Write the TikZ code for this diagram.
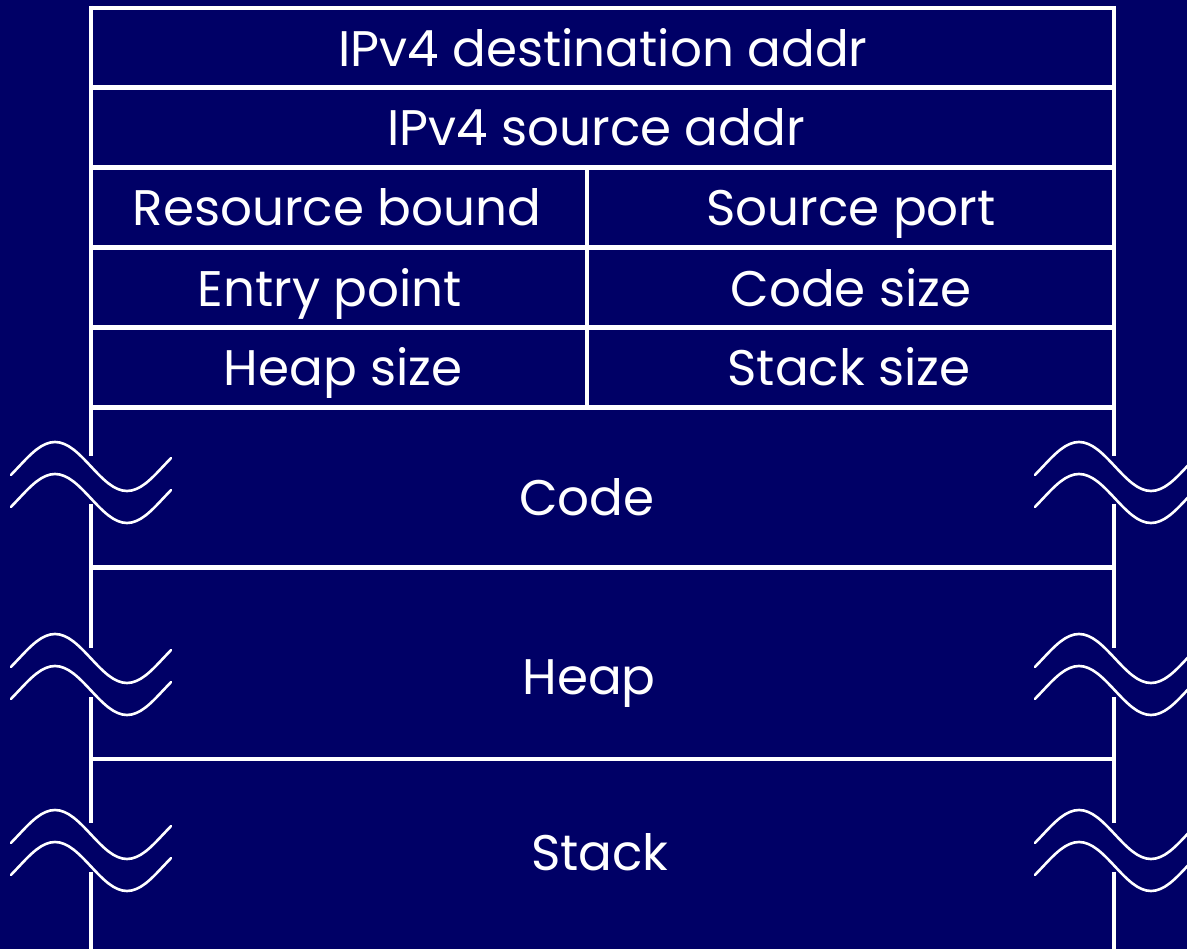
\documentclass[tikz,border=0pt]{standalone}
\usepackage{fontspec}
\setmainfont{Poppins}
\definecolor{slidebg}{RGB}{0,0,102}
\begin{document}
\begin{tikzpicture}[x=1pt,y=-1pt,
  rule/.style={draw=white,line width=4.5pt},
  wave/.style={draw=white,line width=2.6pt,line cap=round,line join=round},
  label/.style={text=white,anchor=base,inner sep=0pt,font=\fontsize{50}{60}\selectfont}]
  % background and page size
  \fill[slidebg] (0,0) rectangle (1187,949);
  \useasboundingbox (0,0) rectangle (1187,949);
  \begin{scope}
  \clip (0,0) rectangle (1187,949);
  % horizontal rules
  \foreach \yy in {8,87.5,167.5,247.5,327.5,407.5,567.5,759}
    \draw[rule] (91,\yy) -- (1114,\yy);
  % column divider in the header rows
  \draw[rule] (587,167.5) -- (587,407.5);
  % side walls, broken where the memory regions are elided
  \foreach \wx in {91,1114}{
    \draw[rule] (\wx,6) -- (\wx,456);
    \draw[rule] (\wx,504) -- (\wx,648);
    \draw[rule] (\wx,697) -- (\wx,823);
    \draw[rule] (\wx,872) -- (\wx,951);
  }
  % break marks: two stacked sine strokes on each wall
  \foreach \mid in {466.5,498.5,658.5,690.5,834.5,866.5}{
    \foreach \pk in {55,1079}{
      \pgfmathsetmacro{\xa}{\pk-44}
      \pgfmathsetmacro{\xb}{\pk-36}
      \pgfmathsetmacro{\xc}{\pk+36}
      \pgfmathsetmacro{\xd}{\pk+72}
      \pgfmathsetmacro{\xe}{\pk+108}
      \pgfmathsetmacro{\xf}{\pk+116}
      \pgfmathsetmacro{\ylo}{\mid+8.4}
      \pgfmathsetmacro{\yhi}{\mid-8.4}
      \pgfmathsetmacro{\ypk}{\mid-24.5}
      \pgfmathsetmacro{\ytr}{\mid+24.5}
      \draw[wave] (\xa,\ylo) -- (\xb,\mid) sin (\pk,\ypk) cos (\xc,\mid)
        sin (\xd,\ytr) cos (\xe,\mid) -- (\xf,\yhi);
    }
  }
  \end{scope}
  % field labels
  \node[label] (dst)   at (603,67)  {IPv4 destination addr};
  \node[label] (src)   at (596,146) {IPv4 source addr};
  \node[label] (rb)    at (337,226) {Resource bound};
  \node[label] (sport) at (851,226) {Source port};
  \node[label] (entry) at (330,307) {Entry point};
  \node[label] (csize) at (851,307) {Code size};
  \node[label] (hsize) at (343,386) {Heap size};
  \node[label] (ssize) at (849,386) {Stack size};
  \node[label] (code)  at (587,515) {Code};
  \node[label] (heap)  at (589,694) {Heap};
  \node[label] (stack) at (600,870) {Stack};
\end{tikzpicture}
\end{document}
